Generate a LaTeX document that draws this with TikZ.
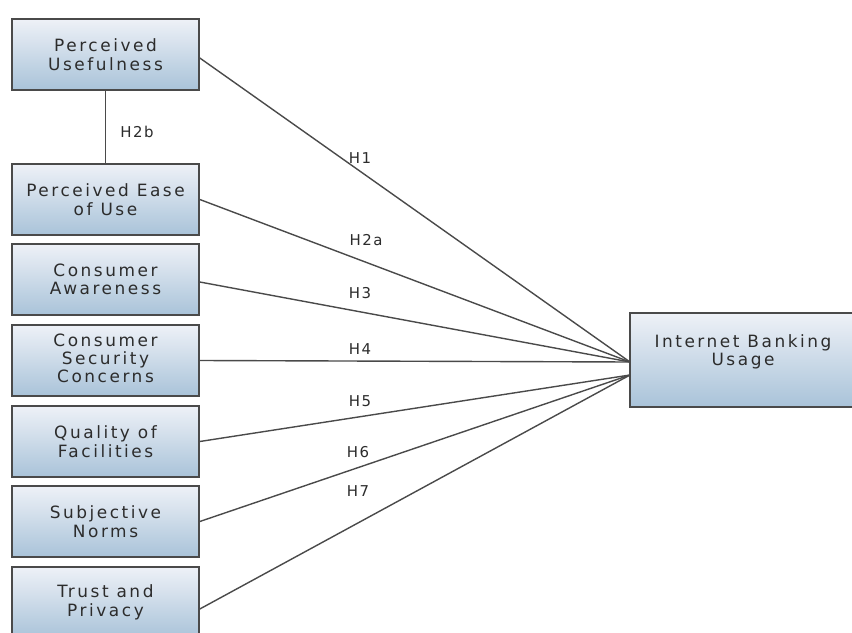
\documentclass[tikz,border=0pt]{standalone}
\usepackage{fontspec}
\newfontfamily\boxfont{DejaVu Sans}[LetterSpace=15]
\newfontfamily\labfont{DejaVu Sans}[LetterSpace=10]
\definecolor{txtgray}{HTML}{2C2C2C}
\definecolor{linegray}{HTML}{4A4A4A}
\definecolor{topfill}{HTML}{EEF1F7}
\definecolor{botfill}{HTML}{A9C3D9}
\begin{document}
\begin{tikzpicture}[x=1bp,y=-1bp,
  box/.style={draw=linegray, line width=1.6bp, rectangle, top color=topfill, bottom color=botfill,
    minimum width=187bp, minimum height=71bp, inner sep=0pt, align=center,
    font=\boxfont\fontsize{17}{18.5}\selectfont, text=txtgray},
  conn/.style={draw=linegray, line width=1.4bp},
  hlab/.style={font=\labfont\fontsize{15}{17}\selectfont, text=txtgray, inner sep=0pt}
]
\useasboundingbox (0,0) rectangle (852,633);
\fill[white] (0,0) rectangle (852,633);

\node[box] (pu) at (105.5,54.5) {Perceived\\Usefulness};
\node[box] (peou) at (105.5,199.5) {Perceived Ease\\of Use};
\node[box] (ca) at (105.5,279.5) {Consumer\\Awareness};
\node[box] (csc) at (105.5,360.5) {\raisebox{7bp}{\begin{tabular}{@{}c@{}}Consumer\\[-0.5bp]Security\\[-0.5bp]Concerns\end{tabular}}};
\node[box] (qf) at (105.5,441.5) {Quality of\\Facilities};
\node[box] (sn) at (105.5,521.5) {Subjective\\Norms};
\node[box] (tp) at (105.5,602.5) {Trust and\\Privacy};

\node[box, minimum width=226bp, minimum height=94bp] (ib) at (743,360) {};
\node[font=\boxfont\fontsize{17}{18.5}\selectfont, text=txtgray, align=center, inner sep=0pt] (ibt) at (743,352) {Internet Banking\\Usage};

\coordinate (up) at (630,362);
\coordinate (lo) at (630,375);

\draw[conn] (pu.south) -- (peou.north);
\draw[conn] ([yshift=-3.5bp]pu.east) -- (up);
\draw[conn] (peou.east) -- (up);
\draw[conn] ([yshift=-2.5bp]ca.east) -- (up);
\draw[conn] (csc.east) -- (up);
\draw[conn] (qf.east) -- (lo);
\draw[conn] (sn.east) -- (lo);
\draw[conn] ([yshift=-6.5bp]tp.east) -- (lo);

\node[hlab] (h2b) at (137,132) {H2b};
\node[hlab] (h1) at (360,158) {H1};
\node[hlab] (h2a) at (366,240) {H2a};
\node[hlab] (h3) at (360,293) {H3};
\node[hlab] (h4) at (360,349) {H4};
\node[hlab] (h5) at (360,401) {H5};
\node[hlab] (h6) at (358,452) {H6};
\node[hlab] (h7) at (358,491) {H7};
\end{tikzpicture}
\end{document}
